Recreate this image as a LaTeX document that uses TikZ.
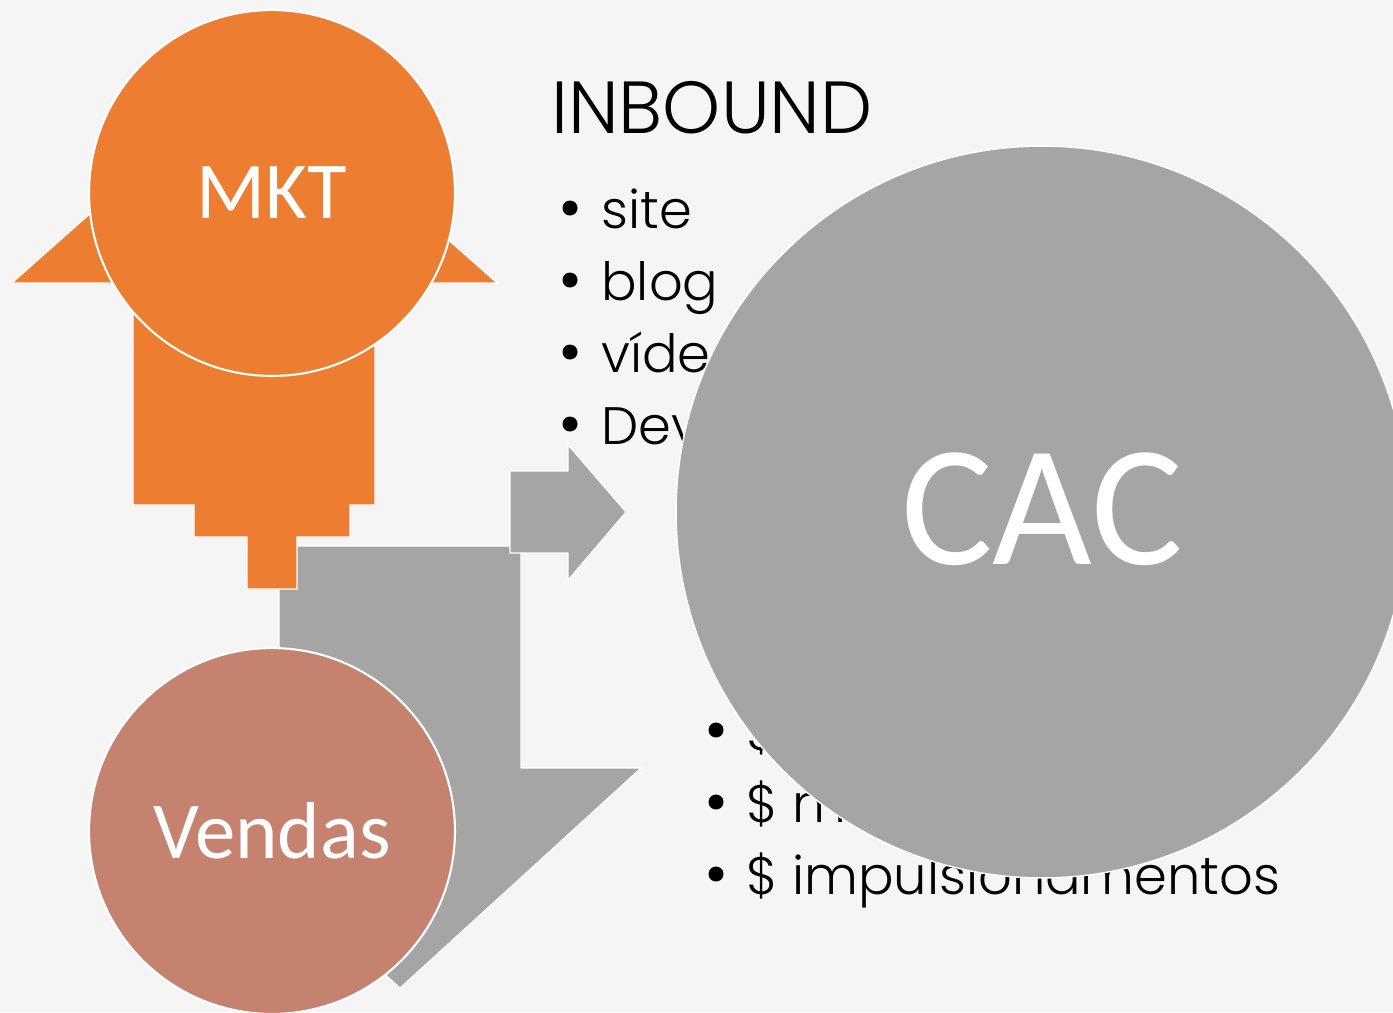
\documentclass[tikz,border=0pt]{standalone}
\usepackage{fontspec}
\setmainfont{Poppins}[UprightFont=* Light]
\newfontfamily\calibri{Carlito}
\usetikzlibrary{positioning}
\definecolor{color1}{RGB}{237,125,49}
\definecolor{color2}{RGB}{165,165,165}
\definecolor{color3}{RGB}{196,130,111}
\definecolor{color4}{RGB}{245,245,245}

\begin{document}
\begin{tikzpicture}[x=0.02cm,y=-0.02cm,
		concept/.style={circle,draw=white,line width=1.2pt,minimum size=7.32cm,inner sep=0pt,text=white,font=\calibri\fontsize{46}{46}\selectfont},
		arrowshape/.style={draw=white,line width=0.6pt},
		item/.style={anchor=base west,inner sep=0pt,font=\fontsize{30}{30}\selectfont},
		dot/.style={circle,fill=black,inner sep=0pt,minimum size=0.3cm}]
		\fill[color4] (0,0) rectangle (1393,1012);
		\clip (0,0) rectangle (1393,1012);
		% gray arrows
		\path[arrowshape,fill=color2] (279,546) -- (521,546) -- (521,768) -- (641,768) -- (400,988) -- (159,768) -- (279,768) -- cycle;
		\path[arrowshape,fill=color2] (510,471) -- (568,471) -- (568,445) -- (626,512) -- (568,580) -- (568,553) -- (510,553) -- cycle;
		% orange arrow
		\path[arrowshape,fill=color1] (12,283) -- (254,68) -- (497,283) -- (375,283) -- (375,505) -- (350,505) -- (350,537) -- (297,537)
			-- (297,589) -- (247,589) -- (247,537) -- (194,537) -- (194,505) -- (133,505) -- (133,283) -- cycle;
		% texts
		\node[anchor=base west,inner sep=0pt,font=\fontsize{42}{42}\selectfont] (inbound) at (551,133) {INBOUND};
		\foreach \t [count=\i] in {site,blog,vídeos,Dev} {
			\node[dot] (ib\i) at (570,136+72*\i) {};
			\node[item] (it\i) at (601,156+72*\i) {\t};
		}
		\foreach \t [count=\i] in {\$,\$ m,\$ impulsionamentos} {
			\node[dot] (cb\i) at (716,658+72*\i) {};
			\node[item] (ct\i) at (746,678+72*\i) {\t};
		}
		% circles
		\node[concept,fill=color1] (mkt) at (272,193) {MKT};
		\node[concept,fill=color3] (vendas) at (272,831) {Vendas};
		\node[concept,fill=color2,minimum size=14.64cm,line width=0.8pt,font=\calibri\fontsize{98}{98}\selectfont] (cac) at (1042,512) {\raisebox{3.4pt}{CAC}};
\end{tikzpicture}
\end{document}
